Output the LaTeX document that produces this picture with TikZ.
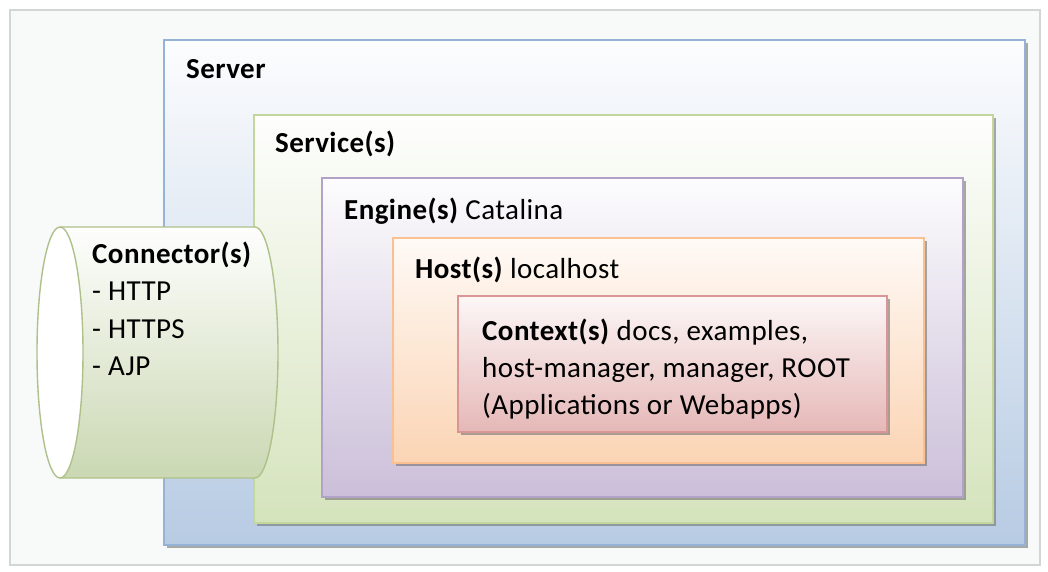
\documentclass[tikz,border=0pt]{standalone}
\usepackage{fontspec}
\setmainfont{Carlito}[LetterSpace=1.5]
\usetikzlibrary{shadows}
\definecolor{frameline}{HTML}{D3D7D3}
\definecolor{framefill}{HTML}{F7FAF8}
\definecolor{srvline}{HTML}{95B3D7}
\definecolor{srvbot}{HTML}{B7CBE3}
\definecolor{svcline}{HTML}{C3D69B}
\definecolor{svcbot}{HTML}{D5E3BC}
\definecolor{engline}{HTML}{B3A2C7}
\definecolor{engbot}{HTML}{CBBFD9}
\definecolor{hstline}{HTML}{FAC090}
\definecolor{hstbot}{HTML}{FBD4B4}
\definecolor{ctxline}{HTML}{D99694}
\definecolor{ctxbot}{HTML}{E5B8B7}
\tikzset{
  box/.style={draw, line width=1.6pt, inner sep=0pt,
    drop shadow={shadow xshift=3pt, shadow yshift=-3pt, opacity=0.6, fill=black!55}},
  lbl/.style={anchor=base west, inner sep=0pt, font=\fontsize{29}{34}\selectfont},
}
\begin{document}
\begin{tikzpicture}[x=1pt,y=-1pt]
\useasboundingbox (0,0) rectangle (1048,572);
\fill[white] (0,0) rectangle (1048,572);
\node[draw=frameline, fill=framefill, line width=1.5pt, inner sep=0pt,
  minimum width=1030pt, minimum height=555pt] (frame) at (525,287.5) {};
% Server
\node[box, draw=srvline, top color=white!96!srvbot, bottom color=srvbot,
  minimum width=861pt, minimum height=505pt] (server) at (594.5,292.5) {};
\node[lbl] (servert) at (186,79) {\bfseries Server};
% Service
\node[box, draw=svcline, top color=white!97!svcbot, bottom color=svcbot,
  minimum width=739pt, minimum height=408pt] (service) at (623.5,319) {};
\node[lbl] (servicet) at (275,153) {\bfseries Service(s)};
% Engine
\node[box, draw=engline, top color=white!95!engbot, bottom color=engbot,
  minimum width=641pt, minimum height=319pt] (engine) at (642.5,337.5) {};
\node[lbl] (enginet) at (344,219) {\textbf{Engine(s)} Catalina};
% Host
\node[box, draw=hstline, top color=white!88!hstbot, bottom color=hstbot,
  minimum width=531pt, minimum height=225pt] (host) at (658.5,350.5) {};
\node[lbl] (hostt) at (415,278) {\textbf{Host(s)} localhost};
% Context
\node[box, draw=ctxline, top color=white!88!ctxbot, bottom color=ctxbot,
  minimum width=429pt, minimum height=136pt] (context) at (672.5,364) {};
\node[lbl] (ctx1) at (482,340) {\textbf{Context(s)} docs, examples,};
\node[lbl] (ctx2) at (482,377) {host-manager, manager, ROOT};
\node[lbl] (ctx3) at (482,414) {(Applications or Webapps)};
% Connector cylinder
\shade[top color=white!97!svcbot, bottom color=svcbot!95!black]
  (60,227) -- (255,227) arc[start angle=90, end angle=-90, x radius=23, y radius=-125.5]
  -- (60,478) arc[start angle=-90, end angle=90, x radius=23, y radius=-125.5] -- cycle;
\draw[svcline!90!black, line width=1.4pt]
  (60,227) -- (255,227) arc[start angle=90, end angle=-90, x radius=23, y radius=-125.5]
  -- (60,478);
\draw[svcline!90!black, line width=1.4pt, fill=white] (60,352.5) ellipse[x radius=23, y radius=125.5];
\node[lbl] (connt) at (92,263) {\bfseries Connector(s)};
\node[lbl] (http) at (92,300) {- HTTP};
\node[lbl] (https) at (92,338) {- HTTPS};
\node[lbl] (ajp) at (92,375) {- AJP};
\end{tikzpicture}
\end{document}
